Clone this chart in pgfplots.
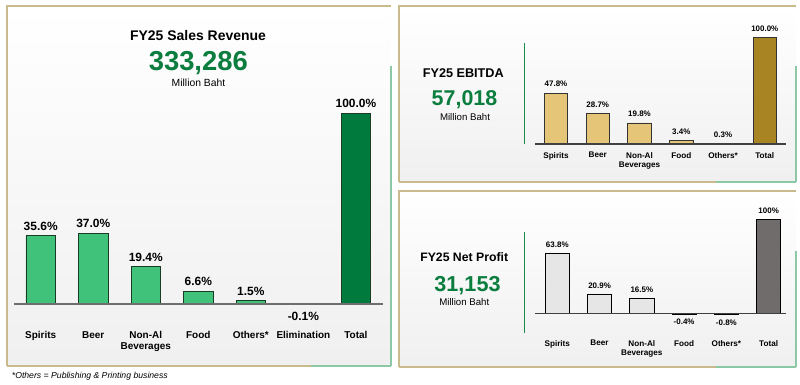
\documentclass[border=0pt]{standalone}
\usepackage{pgfplots}
\pgfplotsset{compat=1.18}
\usepackage{pgfplotstable}
\usepackage{fontspec}
\setmainfont{Liberation Sans}
\definecolor{salesbar}{RGB}{65,194,122}
\definecolor{salestot}{RGB}{0,122,61}
\definecolor{salesedge}{RGB}{25,60,38}
\definecolor{bigg}{RGB}{11,125,62}
\definecolor{ebbar}{RGB}{229,198,120}
\definecolor{ebtot}{RGB}{168,132,35}
\definecolor{npbar}{RGB}{230,230,230}
\definecolor{nptot}{RGB}{113,108,108}
\definecolor{tanb}{RGB}{201,187,140}
\definecolor{bgreen}{RGB}{140,200,165}
\definecolor{vline}{RGB}{30,138,74}
\definecolor{axgray}{RGB}{110,110,110}

\pgfplotstableread{
x y lab dy
0 35.6 35.6 1.7
1 37.0 37.0 1.7
2 19.4 19.4 1.7
3 6.6 6.6 1.7
4 1.5 1.5 1.7
5 -0.1 -0.1 -20.5
}\salesdata
\pgfplotstableread{
x y lab dy
6 100 100.0 1.7
}\salestotal
\pgfplotstableread{
x y lab dy
0 47.8 47.8 2.3
1 28.7 28.7 2.3
2 19.8 19.8 2.3
3 3.4 3.4 2.3
4 0.3 0.3 2.3
}\ebdata
\pgfplotstableread{
x y lab dy
5 100 100.0 2.3
}\ebtotal
\pgfplotstableread{
x y lab dy
0 63.8 63.8 2.0
1 20.9 20.9 2.0
2 16.5 16.5 2.0
3 -0.4 -0.4 -14.5
4 -0.8 -0.8 -14.5
}\npdata
\pgfplotstableread{
x y lab dy
5 100 100 2.0
}\nptotal

\pgfplotsset{
  panel/.style={
    scale only axis, clip=false, anchor=south west,
    ybar, bar shift=0pt,
    axis line style={draw=none}, major tick length=0pt, ytick=\empty,
    xticklabel style={align=center, anchor=north},
    point meta=explicit symbolic,
    nodes near coords={\pgfplotspointmeta\%},
    visualization depends on={\thisrow{dy}\as\mydy},
  },
}
\newcommand{\fs}[1]{\fontsize{#1}{1.15\dimexpr#1pt\relax}\selectfont}

\begin{document}
\begin{tikzpicture}
\begin{scope}[x=1bp,y=1bp]
\useasboundingbox (0,0) rectangle (800,384);
% panel backgrounds
\shade[top color=white, bottom color=black!6] (7,18) rectangle (391,378);
\shade[top color=white, bottom color=black!6] (399,202) rectangle (796,378);
\shade[top color=white, bottom color=black!6] (399,17) rectangle (796,193);
\foreach \a/\b/\c/\d in {7/18/391/378, 399/202/796/378, 399/17/796/193}{
  \draw[tanb, line width=1.2bp] (\a,\b) -- (\a,\d) -- (\c,\d);
  \draw[tanb, line width=1.2bp] (\a,\b) -- (\c,\b);
  \draw[bgreen, line width=1.2bp] (\c,\b) -- (\c,\d-60);
  \draw[bgreen, line width=1.2bp] (\c-80,\b) -- (\c,\b);
}
% panel texts
\node[anchor=base, font=\fs{14}\bfseries] at (198,344) {FY25 Sales Revenue};
\node[anchor=base, font=\fs{27.5}\bfseries, text=bigg] at (198.3,313.15) {333,286};
\node[anchor=base, font=\fs{10.4}] at (198.5,297.3) {Million Baht};
\node[anchor=base, font=\fs{12.7}\bfseries] at (463.3,306.5) {FY25 EBITDA};
\node[anchor=base, font=\fs{21.5}\bfseries, text=bigg] at (464.5,278.6) {57,018};
\node[anchor=base, font=\fs{9.7}] at (465,263.8) {Million Baht};
\node[anchor=base, font=\fs{12.3}\bfseries] at (464.2,122.3) {FY25 Net Profit};
\node[anchor=base, font=\fs{21.7}\bfseries, text=bigg] at (467.5,92.2) {31,153};
\node[anchor=base, font=\fs{9.7}] at (464.3,78.2) {Million Baht};
\node[anchor=base west, inner sep=0pt, font=\fs{8.7}\itshape] at (11.7,6) {*Others = Publishing \& Printing business};
\draw[vline, line width=1.5bp] (524.7,240) -- (524.7,341);
\draw[vline, line width=1.5bp] (524.7,51.3) -- (524.7,152.3);
\end{scope}

% Sales revenue
\begin{axis}[panel, at={(14bp,55.8bp)}, width=368.7bp, height=224.7bp,
  xmin=-0.508, xmax=6.51, ymin=-12.85, ymax=105, bar width=0.562,
  xtick={0,...,6},
  xticklabels={Spirits, Beer, {Non-Al\\Beverages}, Food, Others*, Elimination, Total},
  xticklabel style={font=\fontsize{10}{10.3}\selectfont\bfseries},
  every node near coord/.append style={font=\fs{12}\bfseries, yshift=\mydy bp},
  ]
\addplot[fill=salesbar, draw=salesedge, line width=0.8bp] table[x=x, y=y, meta=lab] {\salesdata};
\addplot[fill=salestot, draw=salesedge, line width=0.8bp] table[x=x, y=y, meta=lab] {\salestotal};
\draw[axgray, line width=1.6bp] (axis cs:-0.508,0) -- (axis cs:6.51,0);
\end{axis}

% EBITDA
\begin{axis}[panel, at={(535bp,235.3bp)}, width=251bp, height=116.6bp,
  xmin=-0.503, xmax=5.508, ymin=-4.4, ymax=105, bar width=0.558,
  xtick={0,...,5},
  xticklabels={Spirits, Beer, {Non-Al\\Beverages}, Food, Others*, Total},
  xticklabel style={font=\fontsize{8.2}{9.2}\selectfont\bfseries},
  every node near coord/.append style={font=\fs{8}\bfseries, yshift=\mydy bp},
  ]
\addplot[fill=ebbar, draw=black!80, line width=0.8bp] table[x=x, y=y, meta=lab] {\ebdata};
\addplot[fill=ebtot, draw=black!80, line width=0.8bp] table[x=x, y=y, meta=lab] {\ebtotal};
\draw[black!75, line width=1.2bp] (axis cs:-0.503,0) -- (axis cs:5.508,0);
\end{axis}

% Net profit
\begin{axis}[panel, at={(535bp,47.3bp)}, width=251bp, height=122.4bp,
  xmin=-0.527, xmax=5.41, ymin=-24.3, ymax=105, bar width=0.57,
  xtick={0,...,5},
  xticklabels={Spirits, Beer, {Non-Al\\Beverages}, Food, Others*, Total},
  xticklabel style={font=\fontsize{8.2}{9.2}\selectfont\bfseries},
  every node near coord/.append style={font=\fs{8}\bfseries, yshift=\mydy bp},
  ]
\addplot[fill=npbar, draw=black, line width=0.8bp] table[x=x, y=y, meta=lab] {\npdata};
\addplot[fill=nptot, draw=black, line width=0.8bp] table[x=x, y=y, meta=lab] {\nptotal};
\draw[black!75, line width=1.2bp] (axis cs:-0.527,0) -- (axis cs:5.41,0);
\end{axis}
\end{tikzpicture}
\end{document}
